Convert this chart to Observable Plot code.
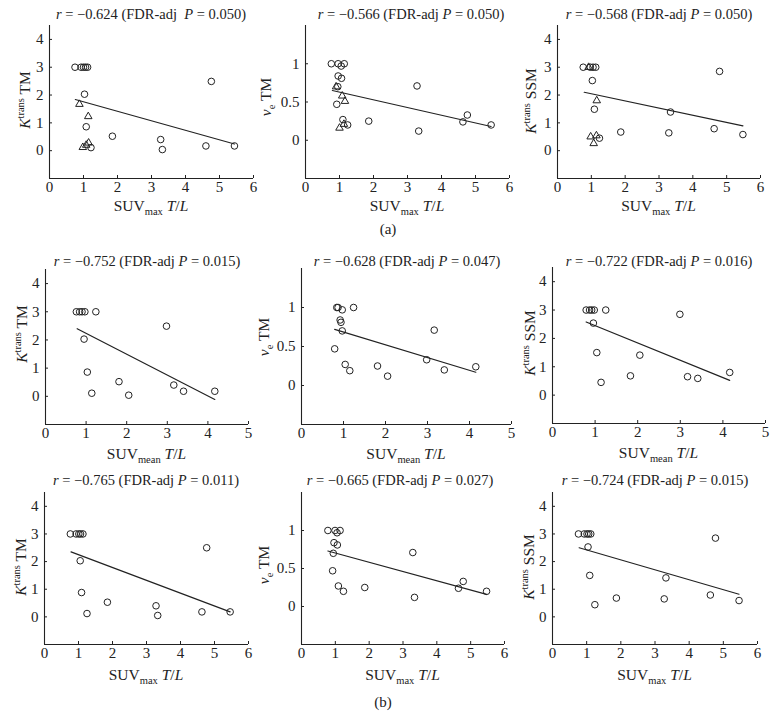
<!DOCTYPE html>
<html><head><meta charset="utf-8">
<script src="https://cdn.jsdelivr.net/npm/d3@7"></script>
<script src="https://cdn.jsdelivr.net/npm/@observablehq/plot@0.6"></script>
<style>
body{margin:0;background:#fff;}
#fig{position:relative;width:776px;height:728px;background:#fff;font-family:"Liberation Serif","DejaVu Serif",serif;color:#222;overflow:hidden;}
.lbl{position:absolute;transform:translate(-50%,-50%);white-space:nowrap;line-height:1;}
.ttl{font-size:14.5px;}
.xl{font-size:15.5px;}
.yl{font-size:15.5px;transform:translate(-50%,-50%) rotate(-90deg);}
.sub{font-size:0.68em;position:relative;top:0.35em;}
.sup{font-size:0.68em;position:relative;top:-0.55em;}
.tag{font-size:15px;}
</style></head><body><div id="fig"></div>
<script>
// ---------- titles ----------
const corrR = ["−0.624","−0.566","−0.568","−0.752","−0.628","−0.722","−0.765","−0.665","−0.724"];
const fdrP  = ["0.050","0.050","0.050","0.015","0.047","0.016","0.011","0.027","0.015"];

// ---------- (a) row 1: SUVmax T/L ----------
const a1CircleX = [0.75,0.93,1.00,1.06,1.12,1.03,4.76,1.08,1.85,3.27,3.32,4.60,5.44,1.22];
const a1CircleY = [3,3,3,3,3,2.03,2.49,0.86,0.52,0.40,0.04,0.17,0.17,0.11];
const a1TriX = [0.88,1.14,0.98,1.08,1.15];
const a1TriY = [1.67,1.23,0.12,0.20,0.28];
const a1FitX = [0.76,5.44];
const a1FitY = [1.84,0.24];

const a2CircleX = [0.76,0.96,1.05,1.14,0.96,1.06,0.95,0.92,1.10,1.24,1.86,3.28,3.33,4.63,4.76,5.46];
const a2CircleY = [1.00,1.00,0.97,1.00,0.84,0.81,0.70,0.47,0.27,0.20,0.25,0.71,0.12,0.24,0.33,0.20];
const a2TriX = [0.90,1.08,1.16,1.00,1.13];
const a2TriY = [0.70,0.58,0.51,0.16,0.21];
const a2FitX = [0.79,5.46];
const a2FitY = [0.65,0.18];

const a3CircleX = [0.76,0.97,1.05,1.13,1.03,4.79,1.09,3.34,1.87,3.29,4.63,5.48,1.24];
const a3CircleY = [3,3,3,3,2.52,2.85,1.49,1.39,0.67,0.64,0.79,0.58,0.45];
const a3TriX = [0.92,1.16,0.98,1.07,1.15];
const a3TriY = [3.00,1.80,0.50,0.26,0.54];
const a3FitX = [0.79,5.48];
const a3FitY = [2.10,0.89];

// ---------- (b) row 2: SUVmean T/L ----------
const b1CircleX = [0.76,0.84,0.90,0.97,1.24,0.95,1.03,1.14,1.81,2.05,2.98,3.16,3.40,4.17];
const b1CircleY = [3,3,3,3,3,2.03,0.86,0.11,0.52,0.04,2.49,0.40,0.18,0.18];
const b1FitX = [0.78,4.17];
const b1FitY = [2.40,-0.11];

const b2CircleX = [0.84,0.87,0.97,1.24,0.92,0.94,0.97,0.79,1.04,1.15,1.81,2.05,2.98,3.16,3.40,4.15];
const b2CircleY = [1.00,1.00,0.97,1.00,0.84,0.81,0.70,0.47,0.27,0.19,0.25,0.12,0.33,0.71,0.20,0.24];
const b2FitX = [0.79,4.15];
const b2FitY = [0.72,0.17];

const b3CircleX = [0.79,0.87,0.92,0.98,1.25,0.96,1.04,1.14,1.83,2.05,2.99,3.17,3.41,4.16];
const b3CircleY = [3,3,3,3,3,2.54,1.50,0.45,0.68,1.41,2.85,0.65,0.59,0.80];
const b3FitX = [0.79,4.16];
const b3FitY = [2.58,0.52];

// ---------- (b) row 3: SUVmax T/L ----------
const c1CircleX = [0.76,0.93,1.01,1.06,1.13,1.05,4.77,1.09,1.85,3.28,3.33,4.63,5.46,1.25];
const c1CircleY = [3,3,3,3,3,2.03,2.50,0.88,0.53,0.40,0.05,0.18,0.18,0.12];
const c1FitX = [0.78,5.46];
const c1FitY = [2.35,0.18];

const c2CircleX = [0.78,0.99,1.05,1.14,0.96,1.06,0.94,0.92,1.09,1.24,1.87,3.29,3.34,4.64,4.78,5.47];
const c2CircleY = [1.00,1.00,0.97,1.00,0.84,0.81,0.70,0.47,0.27,0.20,0.25,0.71,0.12,0.24,0.33,0.20];
const c2FitX = [0.78,5.47];
const c2FitY = [0.73,0.16];

const c3CircleX = [0.76,0.93,1.01,1.06,1.12,1.04,4.77,1.09,3.32,1.24,1.87,3.27,4.62,5.46];
const c3CircleY = [3,3,3,3,3,2.53,2.85,1.50,1.41,0.44,0.68,0.65,0.79,0.59];
const c3FitX = [0.78,5.46];
const c3FitY = [2.50,0.82];

// axis ticks
const kTicks = [0,1,2,3,4];
const veTicks = [0,0.5,1];
const kDomain = [-1,4.5];
const veDomain = [-0.5,1.5];

// ---------- layout ----------
const layout = [
  {cx:a1CircleX, cy:a1CircleY, tx:a1TriX, ty:a1TriY, fx:a1FitX, fy:a1FitY, kind:"k", xMax:6, xL:49, xR:253, yTop:25, yBot:178, yLab:"TM", xSub:"max", tX:151, tY:14, dbl:true, ylX:25, ylY:100, xlY:206},
  {cx:a2CircleX, cy:a2CircleY, tx:a2TriX, ty:a2TriY, fx:a2FitX, fy:a2FitY, kind:"ve", xMax:6, xL:305, xR:509, yTop:25, yBot:178, yLab:"TM", xSub:"max", tX:411, tY:14, ylX:266, ylY:97, xlY:206},
  {cx:a3CircleX, cy:a3CircleY, tx:a3TriX, ty:a3TriY, fx:a3FitX, fy:a3FitY, kind:"k", xMax:6, xL:557, xR:760, yTop:25, yBot:178, yLab:"SSM", xSub:"max", tX:659, tY:14, ylX:531, ylY:101, xlY:206},
  {cx:b1CircleX, cy:b1CircleY, fx:b1FitX, fy:b1FitY, kind:"k", xMax:5, xL:45, xR:248, yTop:269, yBot:424, yLab:"TM", xSub:"mean", tX:147, tY:261, ylX:22, ylY:334, xlY:454},
  {cx:b2CircleX, cy:b2CircleY, fx:b2FitX, fy:b2FitY, kind:"ve", xMax:5, xL:301, xR:511, yTop:268, yBot:424, yLab:"TM", xSub:"mean", tX:407, tY:261, ylX:264, ylY:337, xlY:454},
  {cx:b3CircleX, cy:b3CircleY, fx:b3FitX, fy:b3FitY, kind:"k", xMax:5, xL:552, xR:765, yTop:267, yBot:423, yLab:"SSM", xSub:"mean", tX:659, tY:261, ylX:530, ylY:343, xlY:453},
  {cx:c1CircleX, cy:c1CircleY, fx:c1FitX, fy:c1FitY, kind:"k", xMax:6, xL:44, xR:248, yTop:492, yBot:644, yLab:"TM", xSub:"max", tX:146, tY:480, ylX:21, ylY:567, xlY:675},
  {cx:c2CircleX, cy:c2CircleY, fx:c2FitX, fy:c2FitY, kind:"ve", xMax:6, xL:301, xR:504, yTop:492, yBot:644, yLab:"TM", xSub:"max", tX:400, tY:480, ylX:264, ylY:565, xlY:675},
  {cx:c3CircleX, cy:c3CircleY, fx:c3FitX, fy:c3FitY, kind:"k", xMax:6, xL:552, xR:757, yTop:492, yBot:644, yLab:"SSM", xSub:"max", tX:655, tY:480, ylX:529, ylY:567, xlY:675}
];

const fig = document.getElementById("fig");
const ink = "#222";

function addLabel(html, cls, x, y) {
  const d = document.createElement("div");
  d.className = "lbl " + cls;
  d.innerHTML = html;
  d.style.left = x + "px";
  d.style.top = y + "px";
  fig.appendChild(d);
}

layout.forEach((cfg, i) => {
  const mL = 36, mR = 14, mT = 6, mB = 26;
  const w = cfg.xR - cfg.xL + mL + mR;
  const h = cfg.yBot - cfg.yTop + mT + mB;
  const isVe = cfg.kind === "ve";
  const yDomain = isVe ? veDomain : kDomain;
  const yTicks = isVe ? veTicks : kTicks;
  const xTicks = d3.range(0, cfg.xMax + 1);
  const circles = cfg.cx.map((x, j) => ({x, y: cfg.cy[j]}));
  const tris = cfg.tx ? cfg.tx.map((x, j) => ({x, y: cfg.ty[j]})) : [];
  const fit = cfg.fx.map((x, j) => ({x, y: cfg.fy[j]}));
  const p = Plot.plot({
    width: w, height: h,
    marginLeft: mL, marginRight: mR, marginTop: mT, marginBottom: mB,
    style: {fontFamily: "'Liberation Serif', 'DejaVu Serif', serif", fontSize: "15px", color: ink, background: "transparent", overflow: "visible"},
    x: {domain: [0, cfg.xMax]},
    y: {domain: yDomain},
    marks: [
      Plot.ruleX([0], {stroke: ink, strokeWidth: 1.1}),
      Plot.ruleY([yDomain[0]], {stroke: ink, strokeWidth: 1.1}),
      Plot.axisX(xTicks, {tickSize: -3, tickPadding: 6, label: null, fontSize: 15, tickFormat: d => String(d), stroke: ink, fill: ink}),
      Plot.axisY(yTicks, {tickSize: -3, tickPadding: 9, label: null, fontSize: 15, tickFormat: d => String(d), stroke: ink, fill: ink}),
      Plot.line(fit, {x: "x", y: "y", stroke: ink, strokeWidth: 1.2}),
      Plot.dot(circles, {x: "x", y: "y", r: 3.3, stroke: ink, strokeWidth: 1, fill: "none"}),
      Plot.dot(tris, {x: "x", y: "y", r: 2.8, symbol: "triangle", stroke: ink, strokeWidth: 1, fill: "none"})
    ]
  });
  p.style.position = "absolute";
  p.style.left = (cfg.xL - mL) + "px";
  p.style.top = (cfg.yTop - mT) + "px";
  fig.appendChild(p);

  const gap = cfg.dbl ? "&nbsp; " : " ";
  addLabel(`<i>r</i> = ${corrR[i]} (FDR-adj${gap}<i>P</i> = ${fdrP[i]})`, "ttl", cfg.tX, cfg.tY);
  addLabel(`SUV<span class="sub">${cfg.xSub}</span> <i>T</i>/<i>L</i>`, "xl", (cfg.xL + cfg.xR) / 2, cfg.xlY);
  const yHtml = isVe
    ? `<i>v</i><span class="sub">e</span> ${cfg.yLab}`
    : `<i>K</i><span class="sup">trans</span> ${cfg.yLab}`;
  addLabel(yHtml, "yl", cfg.ylX, cfg.ylY);
});

addLabel("(a)", "tag", 388, 229);
addLabel("(b)", "tag", 383, 702);
</script>
</body></html>
